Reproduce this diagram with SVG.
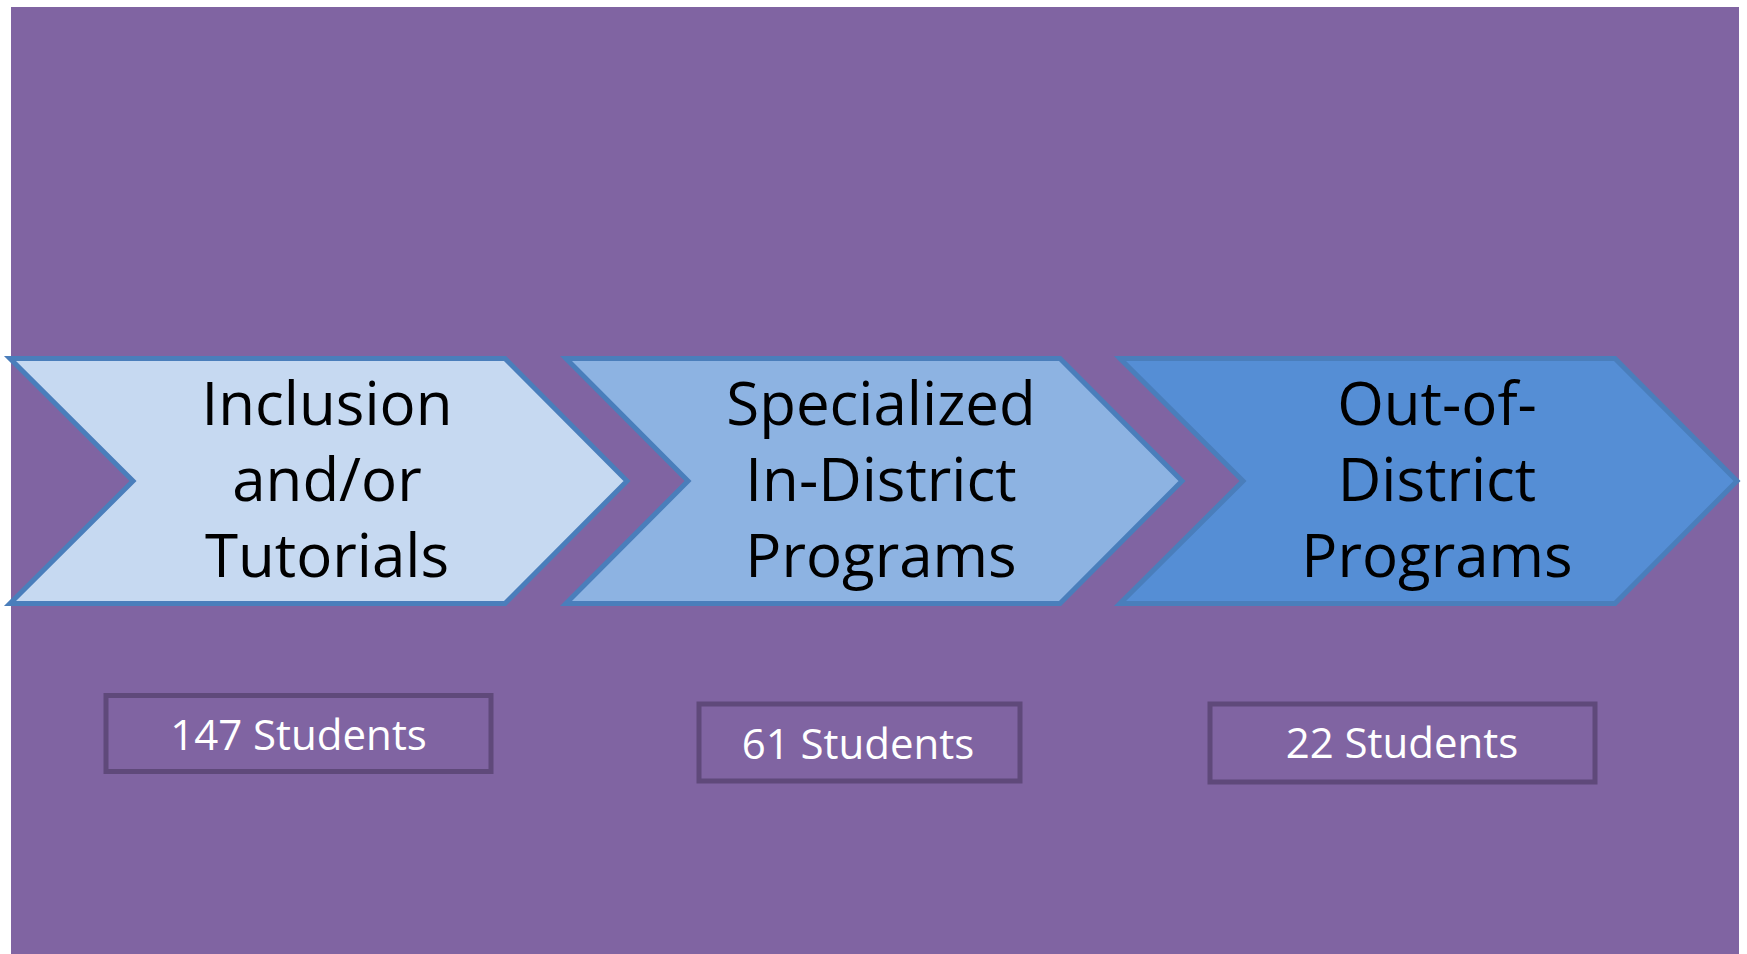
<svg xmlns="http://www.w3.org/2000/svg" width="1747" height="954" viewBox="0 0 1747 954">
<style>
.chev{stroke:#4A7EBB;stroke-width:5;stroke-linejoin:miter}
.lbl{font-family:"Open Sans","Liberation Sans",sans-serif;font-size:60px;fill:#000;text-anchor:middle}
.box{fill:none;stroke:#5F497A;stroke-width:5}
.cnt{font-family:"Open Sans","Liberation Sans",sans-serif;font-size:42px;fill:#fff;text-anchor:middle}
</style>
<rect x="11" y="7" width="1728" height="947" fill="#8064A2"/>
<g id="step1">
<polygon class="chev" fill="#C6D9F1" points="10,358.5 505,358.5 627,481 505,603.5 10,603.5 133,481"/>
<text class="lbl" x="327" y="425">Inclusion</text>
<text class="lbl" x="327" y="501">and/or</text>
<text class="lbl" x="327" y="577">Tutorials</text>
</g>
<g id="step2">
<polygon class="chev" fill="#8DB3E2" points="566,358.5 1060,358.5 1182,481 1060,603.5 566,603.5 688,481"/>
<text class="lbl" x="881" y="425">Specialized</text>
<text class="lbl" x="881" y="501">In-District</text>
<text class="lbl" x="881" y="577">Programs</text>
</g>
<g id="step3">
<polygon class="chev" fill="#558ED5" points="1120,358.5 1615,358.5 1737,481 1615,603.5 1120,603.5 1243,481"/>
<text class="lbl" x="1437" y="425">Out-of-</text>
<text class="lbl" x="1437" y="501">District</text>
<text class="lbl" x="1437" y="577">Programs</text>
</g>
<g id="count1">
<rect class="box" x="106" y="695.5" width="385" height="76"/>
<text class="cnt" x="298.5" y="750">147 Students</text>
</g>
<g id="count2">
<rect class="box" x="699" y="704" width="321" height="77"/>
<text class="cnt" x="858" y="759">61 Students</text>
</g>
<g id="count3">
<rect class="box" x="1210" y="704" width="385" height="78"/>
<text class="cnt" x="1402" y="758">22 Students</text>
</g>
<g id="connectors"/>
</svg>
